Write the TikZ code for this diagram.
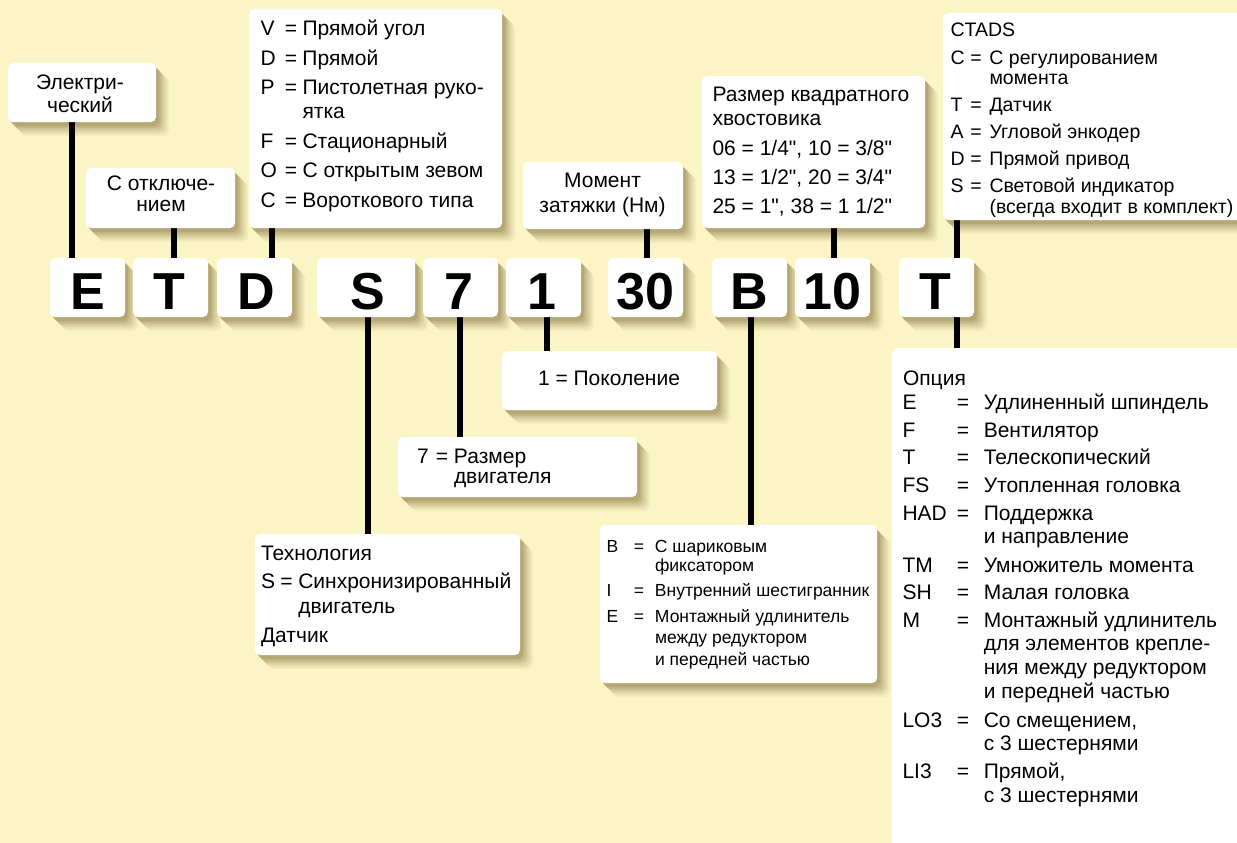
\documentclass[tikz,border=0pt]{standalone}
\usepackage{fontspec}
\setmainfont{Liberation Sans}
\newfontfamily\arialf{Liberation Sans}
\definecolor{bgc}{RGB}{251,244,197}
\definecolor{shc}{RGB}{110,92,35}
\pgfdeclarelayer{backlayer}
\pgfdeclarelayer{shadelayer}
\pgfsetlayers{backlayer,shadelayer,main}
\newcounter{tlc}
\newcommand\tline[4][]{\stepcounter{tlc}\node[txt,#1] (t\arabic{tlc}) at (#2,#3) {#4};}
\newcommand\kv[4]{\makebox[#1][l]{#3}\makebox[#2][l]{=}#4}
\newcommand\kvV[2]{\kv{24.5pt}{17.5pt}{#1}{#2}}
\newcommand\kvC[2]{\kv{20pt}{19pt}{#1}{#2}}
\newcommand\kvB[2]{\kv{27.5pt}{21pt}{#1}{#2}}
\newcommand\kvO[2]{\kv{54.3pt}{27pt}{#1}{#2}}
\begin{document}
\begin{tikzpicture}[x=1pt,y=-1pt,
  txt/.style={anchor=base west, inner sep=0pt, outer sep=0pt, font=\arialf\fontsize{21}{24}\selectfont},
  ctxt/.style={font=\arialf\fontsize{19.5}{22}\selectfont},
  btxt/.style={font=\arialf\fontsize{17.5}{20}\selectfont},
  lett/.style={anchor=base, inner sep=0pt, outer sep=0pt, font=\arialf\bfseries\fontsize{52}{52}\selectfont},
  box/.style={fill=white, rounded corners=5pt, inner sep=0pt, outer sep=0pt, anchor=north west},
  conn/.style={line width=5.5pt, black}]
\clip (0,0) rectangle (1237,843);
\begin{pgfonlayer}{backlayer}
\fill[bgc] (0,0) rectangle (1237,843);
\end{pgfonlayer}

% connector x positions
\coordinate (xE) at (72,0);
\coordinate (xT) at (174,0);
\coordinate (xD) at (272,0);
\coordinate (xS) at (368,0);
\coordinate (x7) at (460,0);
\coordinate (x1) at (547,0);
\coordinate (x30) at (647,0);
\coordinate (xB) at (751,0);
\coordinate (x10) at (834,0);
\coordinate (xT2) at (957,0);

% boxes
\node[box, minimum width=148pt, minimum height=59pt] (elec) at (8,63) {};
\node[box, minimum width=149pt, minimum height=60pt] (cut) at (86,168) {};
\node[box, minimum width=253pt, minimum height=219pt] (vbox) at (249,9) {};
\node[box, minimum width=160pt, minimum height=67pt] (moment) at (523,162) {};
\node[box, minimum width=223pt, minimum height=152pt] (razm) at (702,76) {};
\node[box, minimum width=317pt, minimum height=207pt] (ctads) at (943,13) {};
\node[box, minimum width=75pt, minimum height=59pt] (bE) at (50,258) {};
\node[box, minimum width=75pt, minimum height=59pt] (bT) at (133,258) {};
\node[box, minimum width=75pt, minimum height=59pt] (bD) at (217,258) {};
\node[box, minimum width=98pt, minimum height=59pt] (bS) at (317,258) {};
\node[box, minimum width=75pt, minimum height=59pt] (b7) at (423,258) {};
\node[box, minimum width=75pt, minimum height=59pt] (b1) at (506,258) {};
\node[box, minimum width=75pt, minimum height=59pt] (b30) at (608,258) {};
\node[box, minimum width=75pt, minimum height=59pt] (bB) at (712,258) {};
\node[box, minimum width=75pt, minimum height=59pt] (b10) at (795,258) {};
\node[box, minimum width=75pt, minimum height=59pt] (bT2) at (899,258) {};
\node[box, minimum width=215pt, minimum height=59pt] (gen) at (502,351) {};
\node[box, minimum width=239pt, minimum height=60pt] (sev) at (398,437) {};
\node[box, minimum width=265pt, minimum height=121pt] (tech) at (255,534) {};
\node[box, minimum width=277pt, minimum height=158pt] (bsq) at (600,525) {};
\node[box, minimum width=368pt, minimum height=522pt] (opt) at (892,348) {};

% soft shadows (opaque graded bands) and connectors
\begin{pgfonlayer}{shadelayer}
\foreach \k/\p in {13/6,11/13,9/21,7/30,5/40,3/50}{
  \foreach \n in {elec,cut,vbox,moment,razm,ctads,bE,bT,bD,bS,b7,b1,b30,bB,b10,bT2,gen,sev,tech,bsq,opt}{
    \fill[shc!\p!bgc, rounded corners=6pt] ([xshift=\k pt, yshift=-\k pt-1pt]\n.north west) rectangle ([xshift=\k pt, yshift=-\k pt-1pt]\n.south east);
  }
}
\draw[conn] (elec.south -| xE) -- (bE.north -| xE);
\draw[conn] (cut.south -| xT) -- (bT.north -| xT);
\draw[conn] (vbox.south -| xD) -- (bD.north -| xD);
\draw[conn] (bS.south -| xS) -- (tech.north -| xS);
\draw[conn] (b7.south -| x7) -- (sev.north -| x7);
\draw[conn] (b1.south -| x1) -- (gen.north -| x1);
\draw[conn] (moment.south -| x30) -- (b30.north -| x30);
\draw[conn] (bB.south -| xB) -- (bsq.north -| xB);
\draw[conn] (razm.south -| x10) -- (b10.north -| x10);
\draw[conn] (ctads.south -| xT2) -- (bT2.north -| xT2);
\draw[conn] (bT2.south -| xT2) -- (opt.north -| xT2);
\end{pgfonlayer}

% letters
\node[lett] (lE) at (88,309) {E};
\node[lett] (lT) at (169,309) {T};
\node[lett] (lD) at (256,309) {D};
\node[lett] (lS) at (367.5,309) {S};
\node[lett] (l7) at (459,309) {7};
\node[lett] (l1) at (542,309) {1};
\node[lett] (l30) at (645.5,309) {30};
\node[lett] (lB) at (749.5,309) {B};
\node[lett] (l10) at (832,309) {10};
\node[lett] (lT2) at (935.5,309) {T};

% elec / cut
\tline[anchor=base]{80}{89}{Электри-}
\tline[anchor=base]{80}{112.5}{ческий}
\tline[anchor=base]{161}{190}{С отключе-}
\tline[anchor=base]{161}{211}{нием}

% vbox
\tline{260.5}{36}{\kvV{V}{Прямой угол}}
\tline{260.5}{65.5}{\kvV{D}{Прямой}}
\tline{260.5}{95}{\kvV{P}{Пистолетная руко-}}
\tline{302.5}{118.5}{ятка}
\tline{260.5}{148}{\kvV{F}{Стационарный}}
\tline{260.5}{177.5}{\kvV{O}{С открытым зевом}}
\tline{260.5}{207}{\kvV{C}{Вороткового типа}}

% moment
\tline[anchor=base]{602.5}{187.5}{Момент}
\tline[anchor=base]{602.5}{212.5}{затяжки (Нм)}

% razm
\tline{712.5}{102}{Размер квадратного}
\tline{712.5}{125}{хвостовика}
\tline{712.5}{155}{06 = 1/4", 10 = 3/8"}
\tline{712.5}{184}{13 = 1/2", 20 = 3/4"}
\tline{712.5}{213}{25 = 1", 38 = 1 1/2"}

% ctads
\tline[ctxt]{950.5}{37}{CTADS}
\tline[ctxt]{950.5}{64}{\kvC{C}{С регулированием}}
\tline[ctxt]{989.5}{84.5}{момента}
\tline[ctxt]{950.5}{111.5}{\kvC{T}{Датчик}}
\tline[ctxt]{950.5}{138.5}{\kvC{A}{Угловой энкодер}}
\tline[ctxt]{950.5}{165.5}{\kvC{D}{Прямой привод}}
\tline[ctxt]{950.5}{192.5}{\kvC{S}{Световой индикатор}}
\tline[ctxt]{989.5}{213}{(всегда входит в комплект)}

% gen / sev
\tline[anchor=base]{609}{385}{1 = Поколение}
\tline{417}{463.3}{\kv{19pt}{18pt}{7}{Размер}}
\tline{454}{483.3}{двигателя}

% tech
\tline{261}{560}{Технология}
\tline{261}{588}{\kv{19.5pt}{17.8pt}{S}{Синхронизированный}}
\tline{298.3}{613}{двигатель}
\tline{261}{642}{Датчик}

% bsq
\tline[btxt]{606.5}{552}{\kvB{B}{С шариковым}}
\tline[btxt]{655}{571}{фиксатором}
\tline[btxt]{606.5}{596}{\kvB{I}{Внутренний шестигранник}}
\tline[btxt]{606.5}{622}{\kvB{E}{Монтажный удлинитель}}
\tline[btxt]{655}{643}{между редуктором}
\tline[btxt]{655}{665}{и передней частью}

% opt
\tline{903}{385}{Опция}
\tline{902.5}{409}{\kvO{E}{Удлиненный шпиндель}}
\tline{902.5}{437}{\kvO{F}{Вентилятор}}
\tline{902.5}{464}{\kvO{T}{Телескопический}}
\tline{902.5}{492}{\kvO{FS}{Утопленная головка}}
\tline{902.5}{520}{\kvO{HAD}{Поддержка}}
\tline{983.8}{543}{и направление}
\tline{902.5}{572}{\kvO{TM}{Умножитель момента}}
\tline{902.5}{599}{\kvO{SH}{Малая головка}}
\tline{902.5}{627}{\kvO{M}{Монтажный удлинитель}}
\tline{983.8}{650}{для элементов крепле-}
\tline{983.8}{674}{ния между редуктором}
\tline{983.8}{698}{и передней частью}
\tline{902.5}{727}{\kvO{LO3}{Со смещением,}}
\tline{983.8}{750}{с 3 шестернями}
\tline{902.5}{778}{\kvO{LI3}{Прямой,}}
\tline{983.8}{802}{с 3 шестернями}
\end{tikzpicture}
\end{document}
